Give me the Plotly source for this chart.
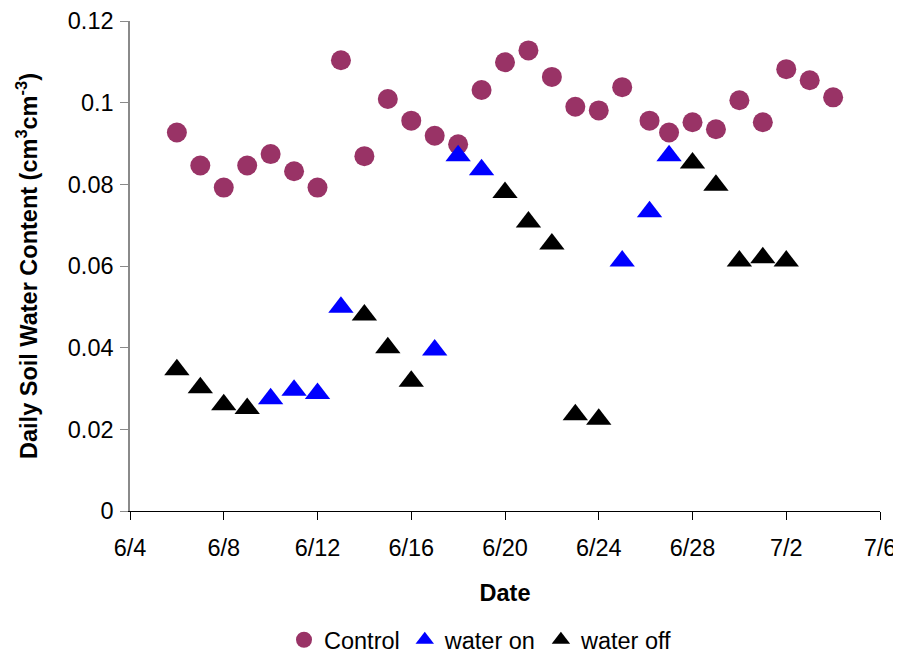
import plotly.graph_objects as go

control_dates = ["2007-06-06", "2007-06-07", "2007-06-08", "2007-06-09", "2007-06-10", "2007-06-11",
                 "2007-06-12", "2007-06-13", "2007-06-14", "2007-06-15", "2007-06-16", "2007-06-17",
                 "2007-06-18", "2007-06-19", "2007-06-20", "2007-06-21", "2007-06-22", "2007-06-23",
                 "2007-06-24", "2007-06-25", "2007-06-26 04:00", "2007-06-27", "2007-06-28", "2007-06-29",
                 "2007-06-30", "2007-07-01", "2007-07-02", "2007-07-03", "2007-07-04"]
control_vals = [0.0927, 0.0846, 0.0792, 0.0846, 0.0874, 0.0832, 0.0792, 0.1104, 0.0869, 0.1009,
                0.0956, 0.0919, 0.0898, 0.1031, 0.1099, 0.1128, 0.1063, 0.0990, 0.0981, 0.1038,
                0.0956, 0.0927, 0.0952, 0.0935, 0.1006, 0.0952, 0.1082, 0.1055, 0.1013]

on_dates = ["2007-06-10", "2007-06-11", "2007-06-12", "2007-06-13", "2007-06-17", "2007-06-18",
            "2007-06-19", "2007-06-25", "2007-06-26 04:00", "2007-06-27"]
on_vals = [0.0275, 0.0296, 0.0288, 0.0499, 0.0394, 0.0870, 0.0836, 0.0612, 0.0733, 0.0870]

off_dates = ["2007-06-06", "2007-06-07", "2007-06-08", "2007-06-09", "2007-06-14", "2007-06-15",
             "2007-06-16", "2007-06-20", "2007-06-21", "2007-06-22", "2007-06-23", "2007-06-24",
             "2007-06-28", "2007-06-29", "2007-06-30", "2007-07-01", "2007-07-02"]
off_vals = [0.0346, 0.0302, 0.0260, 0.0251, 0.0480, 0.0400, 0.0318, 0.0780, 0.0708, 0.0654,
            0.0236, 0.0225, 0.0852, 0.0798, 0.0612, 0.0620, 0.0612]

FONT = "Liberation Sans, Arial, sans-serif"
FS = 23.5

fig = go.Figure()
fig.add_trace(go.Scatter(x=control_dates, y=control_vals, mode="markers", name="Control",
                         marker=dict(symbol="circle", size=20, color="#993366")))
fig.add_trace(go.Scatter(x=on_dates, y=on_vals, mode="markers", name="water on",
                         marker=dict(symbol="triangle-up", size=22, color="#0000FF")))
fig.add_trace(go.Scatter(x=off_dates, y=off_vals, mode="markers", name="water off",
                         marker=dict(symbol="triangle-up", size=22, color="#000000")))

common = dict(showline=True, ticks="outside", ticklen=8, showgrid=False, zeroline=False,
              automargin=False, tickfont=dict(family=FONT, size=FS, color="#000000"))

# page body has an 8px margin; figure offset accordingly so its right/bottom edges reach the window edge
fig.update_layout(
    width=893, height=648,
    margin=dict(l=122, r=21, t=13, b=145),
    paper_bgcolor="white", plot_bgcolor="white",
    font=dict(family=FONT, size=FS, color="#000000"),
    xaxis=dict(type="date", range=["2007-06-04", "2007-07-06"], tick0="2007-06-04",
               dtick=4 * 86400000, tickformat="%-m/%-d", ticklabelstandoff=8,
               ticklabeloverflow="allow",
               linecolor="#000000", linewidth=1, tickcolor="#000000",
               title=dict(text="<b>Date</b>", font=dict(family=FONT, size=FS), standoff=24),
               **common),
    yaxis=dict(range=[0, 0.12], dtick=0.02, tickformat="~g", ticklabelstandoff=2,
               linecolor="#8a8a8a", linewidth=1.5, tickcolor="#8a8a8a",
               title=dict(text="<b>Daily Soil Water Content (cm<sup>3</sup>cm<sup>-3</sup>)</b>",
                          font=dict(family=FONT, size=FS), standoff=24),
               **common),
    legend=dict(orientation="h", xref="paper", x=0.468, xanchor="center",
                yref="container", y=0.0247, yanchor="middle",
                font=dict(family=FONT, size=FS), itemwidth=30, tracegroupgap=0),
    showlegend=True,
)

fig.write_html("out.html")
